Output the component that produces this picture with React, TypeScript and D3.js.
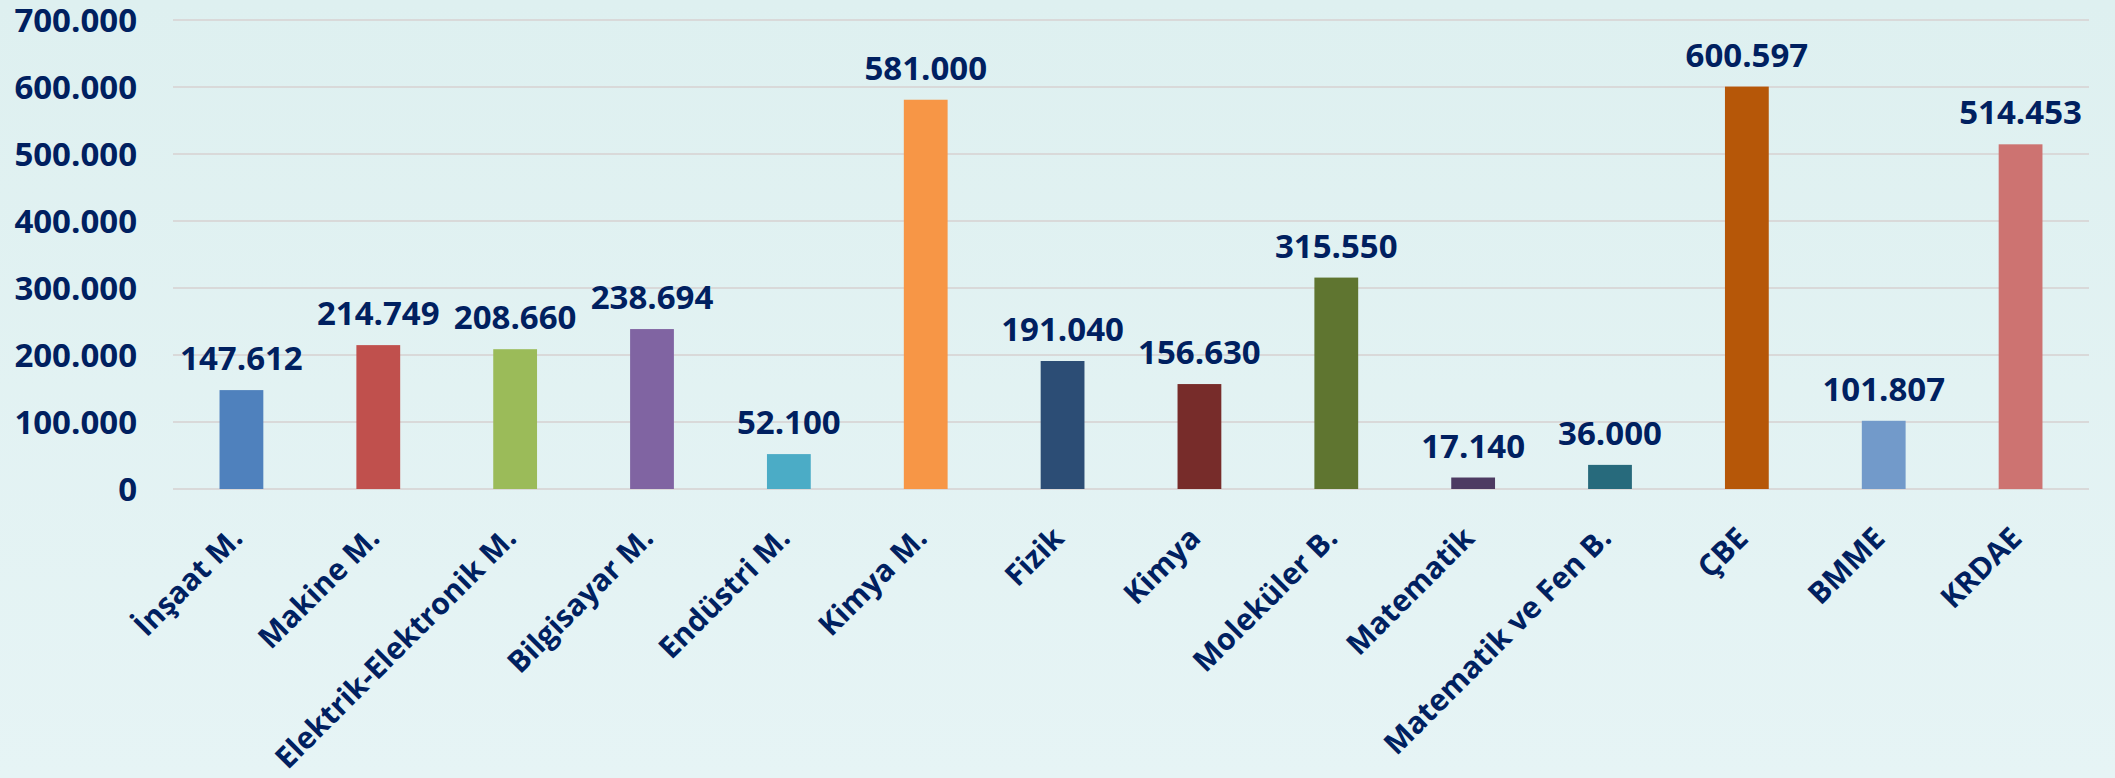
import * as d3 from 'd3'
import { useEffect, useRef } from 'react'

const categories = [
  'İnşaat M.',
  'Makine M.',
  'Elektrik-Elektronik M.',
  'Bilgisayar M.',
  'Endüstri M.',
  'Kimya M.',
  'Fizik',
  'Kimya',
  'Moleküler B.',
  'Matematik',
  'Matematik ve Fen B.',
  'ÇBE',
  'BMME',
  'KRDAE',
]

const values = [
  147612, 214749, 208660, 238694, 52100, 581000, 191040,
  156630, 315550, 17140, 36000, 600597, 101807, 514453,
]

const barColors = [
  '#4F81BD', '#C0504D', '#9BBB59', '#8064A2', '#4BACC6', '#F79646', '#2C4D75',
  '#772C2A', '#5F7530', '#4D3B62', '#276A7C', '#B65708', '#729ACA', '#CD7371',
]

const yTicks = [0, 100000, 200000, 300000, 400000, 500000, 600000, 700000]

const W = 2115
const H = 778
const FONT = '"Open Sans", "Noto Sans", sans-serif'
const TEXT_COLOR = '#002060'

export default function App() {
  const svgRef = useRef<SVGSVGElement | null>(null)

  useEffect(() => {
    if (!svgRef.current)
      return

    const margin = { top: 20, right: 26, bottom: 289, left: 173 }
    const width = W - margin.left - margin.right
    const height = H - margin.top - margin.bottom

    const root = d3.select(svgRef.current)
    root.selectAll('*').remove()

    // background gradient
    const defs = root.append('defs')
    const grad = defs.append('linearGradient')
      .attr('id', 'bg')
      .attr('x1', 0).attr('y1', 0).attr('x2', 0).attr('y2', 1)
    grad.append('stop').attr('offset', '0%').attr('stop-color', '#DEF0F0')
    grad.append('stop').attr('offset', '100%').attr('stop-color', '#E6F4F5')
    root.append('rect').attr('width', W).attr('height', H).attr('fill', 'url(#bg)')

    const locale = d3.formatLocale({ decimal: ',', thousands: '.', grouping: [3], currency: ['', ''] })
    const fmt = locale.format(',d')

    const svg = root.append('g')
      .attr('transform', `translate(${margin.left},${margin.top})`)

    const x = d3.scaleBand()
      .domain(categories)
      .range([0, width])
      .paddingInner(0.68)
      .paddingOuter(0.34)

    const y = d3.scaleLinear()
      .domain([0, 700000])
      .range([height, 0])

    // gridlines
    svg.append('g')
      .selectAll('line')
      .data(yTicks)
      .enter()
      .append('line')
      .attr('x1', 0)
      .attr('x2', width)
      .attr('y1', d => y(d))
      .attr('y2', d => y(d))
      .attr('stroke', '#D9D9D9')
      .attr('stroke-width', 2)

    // y labels
    svg.append('g')
      .selectAll('text')
      .data(yTicks)
      .enter()
      .append('text')
      .attr('x', -36)
      .attr('y', d => y(d))
      .attr('dy', '0.36em')
      .attr('text-anchor', 'end')
      .attr('font-family', FONT)
      .attr('font-weight', 700)
      .attr('font-size', 33)
      .attr('fill', TEXT_COLOR)
      .text(d => fmt(d))

    // bars
    svg.append('g')
      .selectAll('rect')
      .data(values)
      .enter()
      .append('rect')
      .attr('x', (_, i) => x(categories[i]) || 0)
      .attr('y', d => y(d))
      .attr('width', x.bandwidth())
      .attr('height', d => height - y(d))
      .attr('fill', (_, i) => barColors[i])

    // value labels
    svg.append('g')
      .selectAll('text')
      .data(values)
      .enter()
      .append('text')
      .attr('x', (_, i) => (x(categories[i]) || 0) + x.bandwidth() / 2)
      .attr('y', d => y(d) - 20)
      .attr('text-anchor', 'middle')
      .attr('font-family', FONT)
      .attr('font-weight', 700)
      .attr('font-size', 33)
      .attr('fill', TEXT_COLOR)
      .text(d => fmt(d))

    // category labels, rotated
    svg.append('g')
      .selectAll('text')
      .data(categories)
      .enter()
      .append('text')
      .attr('transform', d => {
        const cx = (x(d) || 0) + x.bandwidth() / 2 + 3
        return `translate(${cx},${height + 51}) rotate(-45)`
      })
      .attr('text-anchor', 'end')
      .attr('font-family', FONT)
      .attr('font-weight', 700)
      .attr('font-size', 30)
      .attr('fill', TEXT_COLOR)
      .text(d => d)
  }, [])

  return (
    <div style={{ position: 'absolute', left: 0, top: 0 }}>
      <svg ref={svgRef} width={W} height={H} style={{ display: 'block' }}></svg>
    </div>
  )
}
